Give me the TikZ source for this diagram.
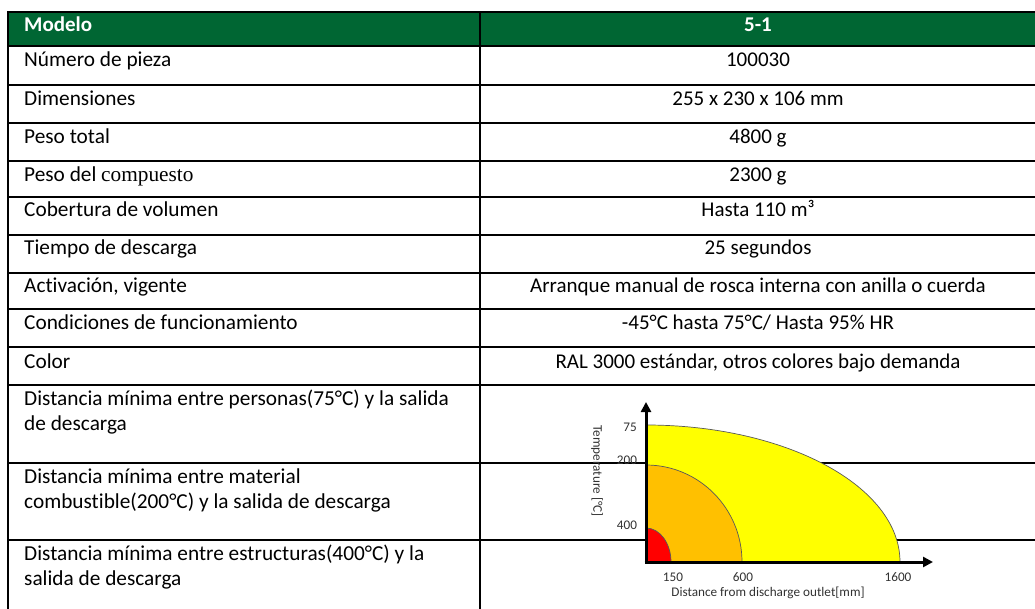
\documentclass[tikz,border=0pt]{standalone}
\usepackage{fontspec}
\setmainfont{Carlito}[Ligatures=NoCommon]
\newfontfamily\compfont{Liberation Serif}
\usetikzlibrary{arrows.meta}
\definecolor{hdrgreen}{RGB}{0,102,51}
\definecolor{zoneyellow}{RGB}{255,255,0}
\definecolor{zoneorange}{RGB}{255,192,0}
\definecolor{zonered}{RGB}{255,0,0}
\definecolor{charttext}{RGB}{50,50,50}
\tikzset{
  tblline/.style={line width=1.7pt, black},
  lcell/.style={anchor=base west, inner sep=0pt, font=\fontsize{21.3}{26}\selectfont, text=black},
  rcell/.style={anchor=base, inner sep=0pt, font=\fontsize{21}{25.6}\selectfont, text=black},
  hcell/.style={inner sep=0pt, font=\fontsize{21}{25}\selectfont\bfseries, text=white},
  zone/.style={draw=black!65, line width=0.7pt},
  axisline/.style={line width=3pt, black, -{Triangle[length=10pt,width=10pt]}},
  ctext/.style={inner sep=0pt, font=\fontsize{13.2}{15}\selectfont, text=charttext}
}
\begin{document}
\begin{tikzpicture}[x=1pt,y=-1pt]
\useasboundingbox (0,0) rectangle (1035,609);
% header band
\fill[hdrgreen] (8,12) rectangle (1035,46);
% grid
\foreach \yy in {12,46,85,123,161,197,235,273,309,347,385,463,540}
  \draw[tblline] (8,\yy) -- (1035,\yy);
\draw[tblline] (8,11.2) -- (8,609);
\draw[tblline] (480,11.2) -- (480,609);
% header
\node[hcell, anchor=base west] (h1) at (24,32) {Modelo};
\node[hcell, anchor=base] (h2) at (758,32) {5-1};
% rows
\node[lcell] (l1) at (24,67) {Número de pieza};
\node[rcell] (r1) at (758,67) {100030};
\node[lcell] (l2) at (24,106) {Dimensiones};
\node[rcell] (r2) at (758,106) {255 x 230 x 106 mm};
\node[lcell] (l3) at (24,144) {Peso total};
\node[rcell] (r3) at (758,144) {4800 g};
\node[lcell] (l4) at (24,182) {Peso del {\compfont compuesto}};
\node[rcell] (r4) at (758,182) {2300 g};
\node[lcell] (l5) at (24,217) {Cobertura de volumen};
\node[rcell] (r5) at (758,217) {Hasta 110 m³};
\node[lcell] (l6) at (24,255) {Tiempo de descarga};
\node[rcell] (r6) at (758,255) {25 segundos};
\node[lcell] (l7) at (24,293) {Activación, vigente};
\node[rcell] (r7) at (758,293) {Arranque manual de rosca interna con anilla o cuerda};
\node[lcell] (l8) at (24,330) {Condiciones de funcionamiento};
\node[rcell] (r8) at (758,330) {-45°C hasta 75°C/ Hasta 95\% HR};
\node[lcell] (l9) at (24,368) {Color};
\node[rcell] (r9) at (758,368) {RAL 3000 estándar, otros colores bajo demanda};
\node[lcell] (l10a) at (24,405) {Distancia mínima entre personas(75°C) y la salida};
\node[lcell] (l10b) at (24,430) {de descarga};
\node[lcell] (l11a) at (24,483) {Distancia mínima entre material};
\node[lcell] (l11b) at (24,508) {combustible(200°C) y la salida de descarga};
\node[lcell] (l12a) at (24,560) {Distancia mínima entre estructuras(400°C) y la};
\node[lcell] (l12b) at (24,585) {salida de descarga};
% chart zones (quarter ellipses)
\foreach \rx/\ry/\col in {254/137/zoneyellow, 96/97/zoneorange, 25/34/zonered}{
  \fill[\col] (646,562) -- ({646+\rx},562)
    .. controls ({646+\rx},{562-0.5523*\ry}) and ({646+0.5523*\rx},{562-\ry}) .. (646,{562-\ry}) -- cycle;
  \draw[zone] ({646+\rx},562)
    .. controls ({646+\rx},{562-0.5523*\ry}) and ({646+0.5523*\rx},{562-\ry}) .. (646,{562-\ry});
}
% axes
\coordinate (o) at (646,563.5);
\coordinate (ytip) at (646,402);
\coordinate (xo) at (644.5,562);
\coordinate (xtip) at (933,562);
\draw[axisline] (o) -- (ytip);
\draw[axisline] (xo) -- (xtip);
% chart labels
\node[ctext] (t75) at (630,427) {75};
\node[ctext] (t200) at (627,460) {200};
\node[ctext] (t400) at (627,525) {400};
\node[ctext] (t150) at (673,577) {150};
\node[ctext] (t600) at (743,577) {600};
\node[ctext] (t1600) at (898,577) {1600};
\node[ctext] (xlab) at (768,593) {Distance from discharge outlet[mm]};
\node[ctext, rotate=-90] (ylab) at (597,471) {Temperature [°C]};
\end{tikzpicture}
\end{document}
